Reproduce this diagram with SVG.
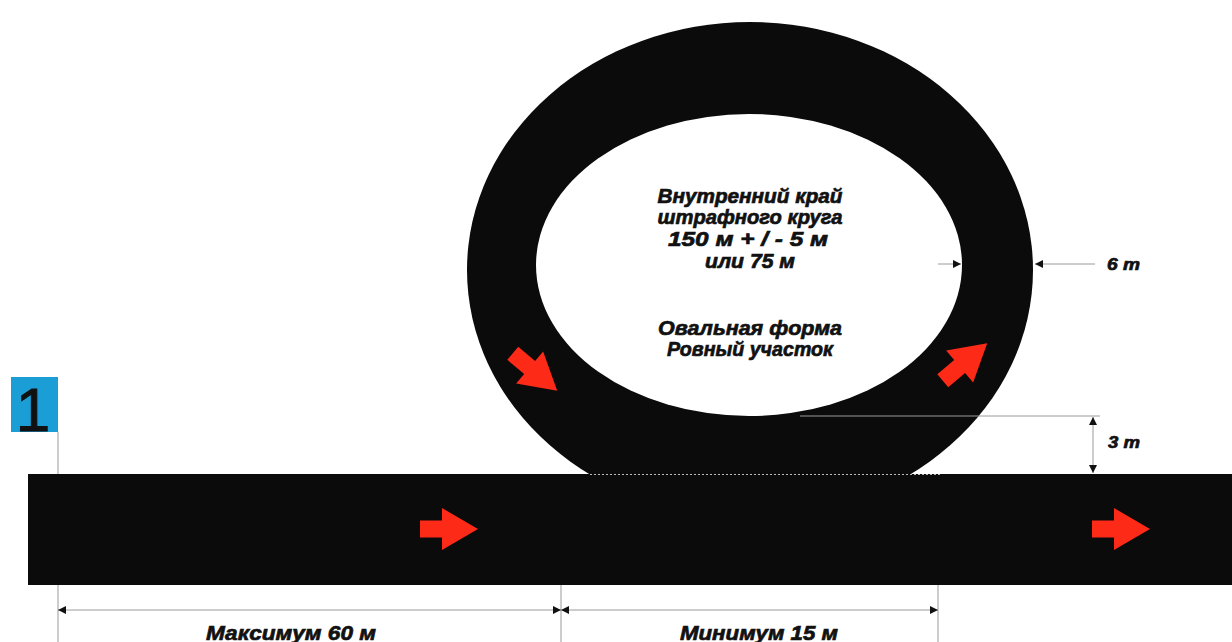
<svg xmlns="http://www.w3.org/2000/svg" width="1232" height="642" viewBox="0 0 1232 642">
<defs>
<style>
.trk{fill:#0b0b0b}
.red{fill:#fd2a18}
.thin{stroke:#9a9a9a;stroke-width:1;fill:none}
.lbl{font-family:"Liberation Sans",Arial,sans-serif;font-weight:bold;font-style:italic;fill:#111;stroke:#111;stroke-width:0.7;text-anchor:middle}
.c{font-size:21px}
.s{font-size:17px;text-anchor:start}
.d{font-size:21px}
</style>
<marker id="ah" viewBox="0 0 10 10" refX="10" refY="5" markerWidth="9" markerHeight="8" markerUnits="userSpaceOnUse" orient="auto-start-reverse">
<path d="M0,0 L10,5 L0,10 Z" fill="#111"/>
</marker>
<path id="arr" d="M-29,-8.5 H-7 V-21 L29,0 L-7,21 V8.5 H-29 Z"/>
</defs>

<g id="track">
<ellipse class="trk" cx="750" cy="270" rx="283" ry="248"/>
<rect class="trk" x="28" y="474" width="1204" height="111"/>
<ellipse cx="749" cy="265" rx="213" ry="151" fill="#fff"/>
<line x1="590" y1="474.5" x2="940" y2="474.5" stroke="#bbb" stroke-width="1" stroke-dasharray="2 2"/>
</g>

<g id="arrows">
<use href="#arr" class="red" transform="translate(449,529)"/>
<use href="#arr" class="red" transform="translate(1121,529)"/>
<use href="#arr" class="red" transform="translate(535,372) rotate(40)"/>
<use href="#arr" class="red" transform="translate(965,362) rotate(-40)"/>
</g>

<g id="start-marker">
<rect x="11" y="377" width="47" height="55" fill="#1b9ed6"/>
<text x="33" y="431" font-family="Liberation Sans,Arial,sans-serif" font-size="62" fill="#111" stroke="#111" stroke-width="1" text-anchor="middle">1</text>
</g>

<g id="center-label">
<text class="lbl c" x="750" y="203" textLength="185" lengthAdjust="spacingAndGlyphs">Внутренний край</text>
<text class="lbl c" x="750" y="224" textLength="185" lengthAdjust="spacingAndGlyphs">штрафного круга</text>
<text class="lbl c" x="748" y="246" textLength="160" lengthAdjust="spacingAndGlyphs">150 м + / - 5 м</text>
<text class="lbl c" x="750" y="268" textLength="90" lengthAdjust="spacingAndGlyphs">или 75 м</text>
<text class="lbl c" x="750" y="335" textLength="184" lengthAdjust="spacingAndGlyphs">Овальная форма</text>
<text class="lbl c" x="750" y="356" textLength="166" lengthAdjust="spacingAndGlyphs">Ровный участок</text>
</g>

<g id="connectors">
<line class="thin" x1="58" y1="432" x2="58" y2="474"/>
<line class="thin" x1="58" y1="585" x2="58" y2="642"/>
<line class="thin" x1="561" y1="585" x2="561" y2="642"/>
<line class="thin" x1="938" y1="585" x2="938" y2="642"/>
<line class="thin" x1="58" y1="610" x2="561" y2="610" marker-start="url(#ah)" marker-end="url(#ah)"/>
<line class="thin" x1="561" y1="610" x2="938" y2="610" marker-start="url(#ah)" marker-end="url(#ah)"/>
<line class="thin" x1="1095" y1="264" x2="1035" y2="264" marker-end="url(#ah)"/>
<line class="thin" x1="938" y1="264" x2="961" y2="264" marker-end="url(#ah)"/>
<line class="thin" x1="800" y1="416" x2="1100" y2="416"/>
<line class="thin" x1="1093" y1="417" x2="1093" y2="473" marker-start="url(#ah)" marker-end="url(#ah)"/>
</g>

<g id="dim-labels">
<text class="lbl s" x="1107" y="270" textLength="33" lengthAdjust="spacingAndGlyphs">6 m</text>
<text class="lbl s" x="1108" y="448" textLength="32" lengthAdjust="spacingAndGlyphs">3 m</text>
<text class="lbl d" x="291" y="640" textLength="170" lengthAdjust="spacingAndGlyphs">Максимум 60 м</text>
<text class="lbl d" x="759" y="640" textLength="158" lengthAdjust="spacingAndGlyphs">Минимум 15 м</text>
</g>
</svg>
